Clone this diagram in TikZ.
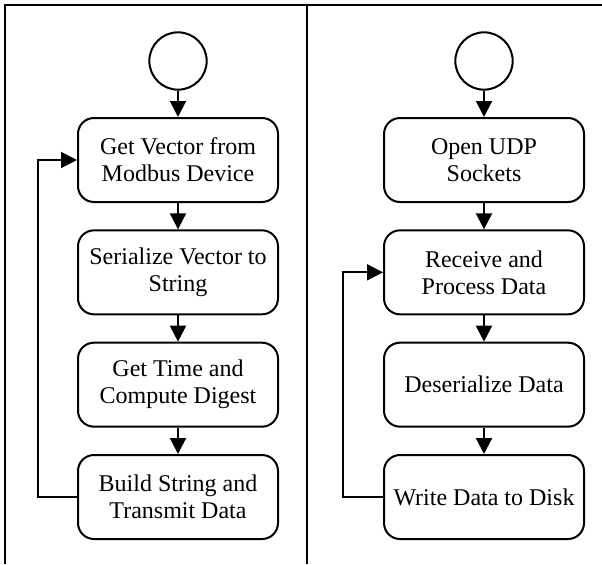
\documentclass[tikz,border=0pt]{standalone}
\usepackage{fontspec}
\setmainfont{Liberation Serif}
\usepackage{tikz}
\usetikzlibrary{arrows.meta, positioning}

\begin{document}
\begin{tikzpicture}[
    x=0.75pt, y=0.75pt,
    node distance=19.75pt, line width=1.5pt,
    >={Triangle[length=12pt, width=12pt]},
    stepbox/.style={
        draw, rectangle, rounded corners=12pt, align=center,
        minimum width=150pt, minimum height=63pt,
        font=\fontsize{18}{20.25}\selectfont
    },
    startnode/.style={draw, circle, minimum size=43pt, inner sep=0pt}
]
    \useasboundingbox (0,0) rectangle (602,-564);
    % lanes
    \draw (5,-564) -- (5,-5) -- (602,-5);
    \draw (307,-5) -- (307,-564);
    % sender
    \node[startnode] (startL) at (178,-61) {};
    \node[stepbox] (vec) [below=of startL] {Get Vector from\\Modbus Device};
    \node[stepbox] (ser) [below=of vec] {Serialize Vector to\\String};
    \node[stepbox] (dig) [below=of ser] {Get Time and\\Compute Digest};
    \node[stepbox] (tx) [below=of dig] {Build String and\\Transmit Data};
    \draw[->] (startL) -- (vec);
    \draw[->] (vec) -- (ser);
    \draw[->] (ser) -- (dig);
    \draw[->] (dig) -- (tx);
    \draw[->] (tx.west) -- ++(-39,0) |- (vec.west);
    % receiver
    \node[startnode] (startR) at (484,-61) {};
    \node[stepbox] (udp) [below=of startR] {Open UDP\\Sockets};
    \node[stepbox] (recv) [below=of udp] {Receive and\\Process Data};
    \node[stepbox] (deser) [below=of recv] {Deserialize Data};
    \node[stepbox] (disk) [below=of deser] {Write Data to Disk};
    \draw[->] (startR) -- (udp);
    \draw[->] (udp) -- (recv);
    \draw[->] (recv) -- (deser);
    \draw[->] (deser) -- (disk);
    \draw[->] (disk.west) -- ++(-40,0) |- (recv.west);
\end{tikzpicture}
\end{document}
